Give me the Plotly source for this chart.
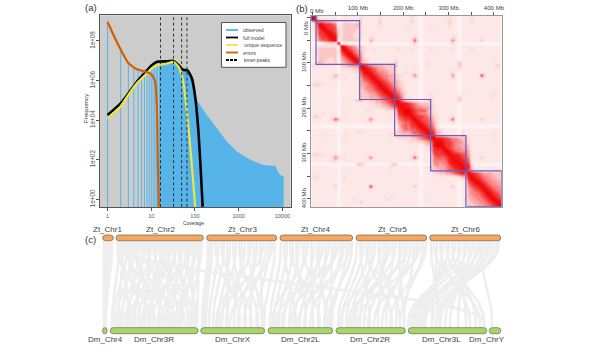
import numpy as np
import plotly.graph_objects as go

W, H = 597, 352
FONT = "Liberation Sans"

# ---------- panel (a): k-mer spectrum ----------
obs_bar_k = [1, 2, 3, 4, 5, 6, 7, 8, 9, 10, 11, 12, 13, 14]
obs_bar_f = [9e8, 3.5e7, 7e6, 4.5e6, 3.7e6, 3.4e6, 3.7e6, 4.2e6, 4.8e6, 5.6e6, 6.3e6, 7e6, 7.8e6, 8.5e6]
obs_fill_k = [15, 21, 32.4, 42, 53, 68, 85, 101, 111, 187, 318, 540, 915, 1850, 3700, 5800, 6900, 7800, 9000, 10700]
obs_fill_f = [9e6, 9.3e6, 9.8e6, 6e6, 3.5e6, 3.2e6, 1.3e6, 1.6e5, 1e5, 1.8e4, 3.8e3, 810, 257, 98, 54, 50, 48, 25, 17, 14]
model_k = [1, 2, 3, 4.7, 7.3, 10, 13.5, 21, 32.4, 42, 53, 68, 85, 101, 121, 137, 150]
model_f = [1.8e4, 7e4, 2.2e5, 8.7e5, 2.5e6, 5.6e6, 8.9e6, 9.3e6, 9.8e6, 6e6, 3.5e6, 3.2e6, 1.3e6, 1.55e5, 2.1e3, 20, 0.42]
unique_k = [1, 2, 3, 4.7, 7.3, 10, 13.5, 21, 32.4, 42, 53, 65, 78, 93, 101]
unique_f = [1.2e4, 5e4, 1.9e5, 7.2e5, 1.9e6, 4e6, 6e6, 6.8e6, 8.7e6, 5e6, 1.07e6, 3.2e4, 460, 4.4, 0.42]
errors_k = [1, 1.37, 2.02, 3.03, 4.7, 7.3, 10, 12.3, 13.5, 14.2, 15]
errors_f = [9.3e8, 2e8, 3.5e7, 7.4e6, 3.7e6, 2.8e6, 2.1e6, 8.7e5, 4.8e4, 45, 0.42]
kmer_peaks = [16.3, 32.4, 49.5, 65.6]
a_xticks = [1, 10, 100, 1000, 10000]
a_yticks = [1, 1e2, 1e4, 1e6, 1e8]
a_yticktext = ["1e+00", "1e+02", "1e+04", "1e+06", "1e+08"]
legend_names = ["observed", "full model", "unique sequence", "errors", "kmer-peaks"]
legend_colors = ["#56B4E9", "#000000", "#F0E442", "#D55E00", "#000000"]

# ---------- panel (b): Hi-C contact map, 7 Mb bins, upper triangle, intensity 0-9 ----------
hic_upper = [
"9411111111 1111121111 1211111111 1211111111 1112111111 2111111111",
".755443311 2211221111 1311111111 1311111111 1113111111 2111111111",
"..98776512 3333421111 1211111111 1111111111 1112111111 1111111111",
"...9877612 3333321111 1211111111 2111111211 1112111111 1111111111",
"....987622 3333221111 1111111111 1111111111 1111111111 1111111111",
".....98722 3332221111 1111111111 1111111111 1111111111 1111111111",
"......9822 3332221122 1111111111 1131111111 1111221111 1111111111",
".......912 3333311142 1111111111 1262111111 1112521111 1113111111",
"........91 1111111121 1011111111 1131111111 1111211111 1111111111",
".........9 8654332111 1111111111 1111111111 1111111111 1111111111",
".......... 9865432112 1111111211 1211111211 1111211111 2111111111",
".......... .986542111 1111111111 1111111111 1111111111 1111111111",
".......... ..98652111 1111111111 1111111111 1111111111 1111111111",
".......... ...9853211 1111112111 1111111111 1111111111 1111111211",
".......... ....953212 1111113111 1111112111 1111113111 1111111111",
".......... .....98654 4433334111 1111112111 1111113111 1111111131",
".......... ......9876 5443332111 1111111111 1111112111 1111111111",
".......... .......987 6554332112 1121111111 1111211111 1111111111",
".......... ........98 7655443221 1252111111 1111511111 1117211111",
".......... .........9 8765443211 1121111111 1111211111 1112111111",
".......... .......... 9876544321 1111111111 1111111111 1111111111",
".......... .......... .987654321 1111111111 1111111111 1111111111",
".......... .......... ..98765431 1111111111 1111111111 1111111111",
".......... .......... ...9876532 1111111111 1111111111 1111111211",
".......... .......... ....987642 1111111211 1111111211 1111111211",
".......... .......... .....98752 2111111211 1111113111 1111112111",
".......... .......... ......9863 2211112311 1111113111 1111111111",
".......... .......... .......988 7654333221 1111111111 1111111111",
".......... .......... ........98 8765544321 1111111111 1111111111",
".......... .......... .........9 9876664321 1111111111 1111111111",
".......... .......... .......... 9876554322 1111111111 1111111111",
".......... .......... .......... .987765432 1111211111 1111111111",
".......... .......... .......... ..98766532 1112611111 1113111111",
".......... .......... .......... ...9876542 1111211111 1111111111",
".......... .......... .......... ....987652 1111111111 1111111111",
".......... .......... .......... .....98763 2111111111 1111111111",
".......... .......... .......... ......9874 3111111211 1111111111",
".......... .......... .......... .......984 3321111311 1111111211",
".......... .......... .......... ........98 8776554332 1111111111",
".......... .......... .......... .........9 9877655432 1111111111",
".......... .......... .......... .......... 9877654443 1111111111",
".......... .......... .......... .......... .987655443 1111111111",
".......... .......... .......... .......... ..98765554 1111111111",
".......... .......... .......... .......... ...9887664 1111111111",
".......... .......... .......... .......... ....988765 1113111111",
".......... .......... .......... .......... .....98876 1111111111",
".......... .......... .......... .......... ......9887 2111111111",
".......... .......... .......... .......... .......988 3111111111",
".......... .......... .......... .......... ........96 4211111211",
".......... .......... .......... .......... .........9 8765444333",
".......... .......... .......... .......... .......... 9876554433",
".......... .......... .......... .......... .......... .987655443",
".......... .......... .......... .......... .......... ..98765544",
".......... .......... .......... .......... .......... ...9876554",
".......... .......... .......... .......... .......... ....987655",
".......... .......... .......... .......... .......... .....98765",
".......... .......... .......... .......... .......... ......9876",
".......... .......... .......... .......... .......... .......987",
".......... .......... .......... .......... .......... ........98",
".......... .......... .......... .......... .......... .........9",
]
hic_pale_bins = [8, 34, 46]
hic_bin_mb = 7
hic_start_mb = -3
hic_blocks_mb = [(-3, 7.4), (7.4, 103.7), (103.7, 180.9), (180.9, 260.3), (260.3, 338), (338, 417)]
b_ticks = [0, 50, 100, 150, 200, 250, 300, 350, 400]
b_ticktext = ["", "", "100 Mb", "", "200 Mb", "", "300 Mb", "", "400 Mb"]

# ---------- panel (c): synteny tracks ----------
zt_names = ["Zt_Chr1", "Zt_Chr2", "Zt_Chr3", "Zt_Chr4", "Zt_Chr5", "Zt_Chr6"]
zt_start = [102.7, 116, 206.7, 280, 356, 429.7]
zt_end = [113.3, 203.3, 276.7, 352.7, 426.7, 500.7]
zt_label = [107.7, 160, 242, 315, 392, 465]
dm_names = ["Dm_Chr4", "Dm_Chr3R", "Dm_ChrX", "Dm_Chr2L", "Dm_Chr2R", "Dm_Chr3L", "Dm_ChrY"]
dm_start = [102.7, 110.3, 200.7, 268, 336, 408.3, 489.3]
dm_end = [107, 198, 264.7, 332.7, 405.3, 486.7, 500.7]
dm_label = [105, 154, 232.7, 300, 370, 441, 486.7]

links_top = [104, 106, 108, 110, 112,
    117, 119, 121, 123, 125, 127, 129, 131, 133, 135, 137, 139, 141, 143, 145, 147, 149, 151, 153, 155, 157, 159,
    161, 163, 165, 167, 169, 171, 173, 175, 177, 179, 181, 183, 185, 187, 189, 191, 193, 195, 197, 199, 201, 202,
    208, 210, 212, 215, 218, 221, 224, 227, 230, 233, 236, 239, 242, 245, 248, 251, 254, 257, 260, 263, 266, 269, 272, 275,
    281, 284, 287, 290, 293, 296, 299, 302, 305, 308, 311, 314, 317, 320, 323, 326, 329, 332, 335, 338, 341, 344, 347, 350, 352,
    357, 360, 363, 366, 369, 372, 375, 378, 381, 384, 387, 390, 393, 396, 399, 402, 405, 408, 411, 414, 417, 420, 423, 426,
    431, 434, 437, 440, 443, 446, 449, 452, 455, 458, 461, 464, 467, 470, 473, 476, 479, 482, 485, 488, 491, 494, 497, 499,
    480, 118]
links_bot = [104, 104.5, 105, 105, 105.5,
    150, 112, 130, 118, 165, 113, 140, 122, 175, 116, 155, 128, 185, 135, 120, 170, 145, 125, 190, 160, 132, 195,
    150, 138, 178, 142, 168, 148, 193, 158, 127, 188, 172, 152, 196, 162, 180, 143, 192, 182, 165, 197, 190, 175,
    202, 204, 206, 240, 209, 252, 213, 228, 218, 246, 222, 258, 234, 226, 262, 216, 250, 238, 263, 220, 244, 256, 230, 264,
    270, 296, 274, 320, 279, 306, 284, 330, 289, 272, 313, 294, 326, 300, 282, 318, 291, 331, 304, 276, 324, 310, 332, 298, 328,
    338, 370, 342, 392, 346, 360, 350, 400, 355, 378, 364, 340, 386, 352, 404, 368, 396, 348, 382, 404, 374, 358, 400, 390,
    440, 480, 432, 470, 424, 484, 418, 476, 412, 466, 408, 458, 412, 450, 420, 445, 416, 440, 422, 436, 414, 432, 425, 410,
    492, 485]
TRACK_TOP, TRACK_BOT = 240.7, 327.7

fig = go.Figure()

# panel (a)
bar_x, bar_y = [], []
for k, f in zip(obs_bar_k, obs_bar_f):
    bar_x += [k, k, None]
    bar_y += [0.4, f, None]
fig.add_trace(go.Scatter(x=bar_x, y=bar_y, mode="lines", line=dict(color="#56B4E9", width=1), name="observed", showlegend=False, hoverinfo="skip", xaxis="x", yaxis="y"))
fig.add_trace(go.Scatter(x=obs_fill_k + [obs_fill_k[-1], obs_fill_k[0]], y=obs_fill_f + [0.4, 0.4], mode="lines", fill="toself", fillcolor="#56B4E9", line=dict(color="#56B4E9", width=0), name="observed", showlegend=False, xaxis="x", yaxis="y"))
fig.add_trace(go.Scatter(x=model_k, y=model_f, mode="lines", line=dict(color="#000000", width=2.6, shape="spline", smoothing=0.5), name="full model", showlegend=False, xaxis="x", yaxis="y"))
fig.add_trace(go.Scatter(x=unique_k, y=unique_f, mode="lines", line=dict(color="#F0E442", width=2.2, shape="spline", smoothing=0.5), name="unique sequence", showlegend=False, xaxis="x", yaxis="y"))
fig.add_trace(go.Scatter(x=errors_k, y=errors_f, mode="lines", line=dict(color="#D55E00", width=2.2, shape="spline", smoothing=0.5), name="errors", showlegend=False, xaxis="x", yaxis="y"))
for p in kmer_peaks:
    fig.add_trace(go.Scatter(x=[p, p], y=[0.4, 2e9], mode="lines", line=dict(color="#222222", width=0.9, dash="3px,2.5px"), name="kmer-peaks", showlegend=False, xaxis="x", yaxis="y"))

# panel (b)
rows = [r.replace(" ", "") for r in hic_upper]
n = len(rows)
z = np.zeros((n, n))
for i, r in enumerate(rows):
    for j, c in enumerate(r):
        if c != ".":
            z[i, j] = z[j, i] = int(c)
for b in hic_pale_bins:
    z[b, :] = np.where(z[b, :] == 1, 0, z[b, :])
    z[:, b] = np.where(z[:, b] == 1, 0, z[:, b])
centers = hic_start_mb + hic_bin_mb * (np.arange(n) + 0.5)
scale = [[0, "#fff4f4"], [1/9, "#fde8e8"], [2/9, "#fddcdc"], [3/9, "#fcc6c6"], [4/9, "#faa8a8"], [5/9, "#f88484"], [6/9, "#f65c5c"], [7/9, "#f43838"], [8/9, "#f21a1a"], [1, "#f00000"]]
fig.add_trace(go.Heatmap(z=z, x=centers, y=centers, colorscale=scale, zmin=0, zmax=9, showscale=False, zsmooth="best", xaxis="x2", yaxis="y2"))

# panel (c)
link_x, link_y = [], []
v = np.linspace(0, 1, 30)
s = 6 * v**5 - 15 * v**4 + 10 * v**3
for t, b in zip(links_top, links_bot):
    link_x += list(t + (b - t) * s) + [None]
    link_y += list(TRACK_TOP + (TRACK_BOT - TRACK_TOP) * v) + [None]
fig.add_trace(go.Scatter(x=link_x, y=link_y, mode="lines", line=dict(color="#eeeeee", width=2.6), hoverinfo="skip", showlegend=False, name="links", xaxis="x3", yaxis="y3"))


def px(x):
    return x / W


def py(y):
    return 1 - y / H


shapes = []
annos = []
# grey plot background of panel (a)
shapes.append(dict(type="rect", xref="x domain", yref="y domain", x0=0, x1=1, y0=0, y1=1, fillcolor="#cccccc", line=dict(width=0), layer="below"))
# legend of panel (a)
shapes.append(dict(type="rect", xref="paper", yref="paper", x0=px(221.5), x1=px(286), y0=py(22.5), y1=py(67.3), fillcolor="#ffffff", line=dict(color="#555555", width=1)))
for i, (nm, col) in enumerate(zip(legend_names, legend_colors)):
    yy = 30 + 7.5 * i
    shapes.append(dict(type="line", xref="paper", yref="paper", x0=px(226), x1=px(238), y0=py(yy), y1=py(yy), line=dict(color=col, width=1.8, dash="3px,1px" if nm == "kmer-peaks" else "solid")))
    annos.append(dict(text=nm, xref="paper", yref="paper", x=px(241.5), y=py(yy), xanchor="left", yanchor="middle", showarrow=False, font=dict(size=5, color="#444444", family=FONT)))
# blocks of panel (b)
for k, (a, b) in enumerate(hic_blocks_mb):
    if k == 0:
        shapes.append(dict(type="rect", xref="x2", yref="y2", x0=a, x1=b, y0=a, y1=b, fillcolor="rgba(190,10,50,0.85)", line=dict(color="#6a5cc0", width=1)))
    else:
        shapes.append(dict(type="rect", xref="x2", yref="y2", x0=a, x1=b, y0=a, y1=b, line=dict(color="#6a5cc0", width=1.2)))


def rounded(x0, x1, y0, y1, fill):
    r = min((x1 - x0) / 2, (y1 - y0) / 2)
    d = (f"M {x0+r},{y0} L {x1-r},{y0} Q {x1},{y0} {x1},{y0+r} L {x1},{y1-r} Q {x1},{y1} {x1-r},{y1} "
         f"L {x0+r},{y1} Q {x0},{y1} {x0},{y1-r} L {x0},{y0+r} Q {x0},{y0} {x0+r},{y0} Z")
    return dict(type="path", xref="x3", yref="y3", path=d, fillcolor=fill, line=dict(color="#77705f", width=0.8))


for a, b in zip(zt_start, zt_end):
    shapes.append(rounded(a, b, 235, 240.7, "#F7A660"))
for a, b in zip(dm_start, dm_end):
    shapes.append(rounded(a, b, 327.7, 333.7, "#A6D869"))
for nm, x in zip(zt_names, zt_label):
    annos.append(dict(text=nm, xref="x3", yref="y3", x=x, y=229, xanchor="center", yanchor="middle", showarrow=False, font=dict(size=8, color="#444444", family=FONT)))
for nm, x in zip(dm_names, dm_label):
    annos.append(dict(text=nm, xref="x3", yref="y3", x=x, y=339.5, xanchor="center", yanchor="middle", showarrow=False, font=dict(size=8, color="#444444", family=FONT)))
# panel letters and axis titles of (a)
for t, x, y in [("(a)", 90.5, 8), ("(b)", 302, 8.5), ("(c)", 90.5, 239)]:
    annos.append(dict(text=t, xref="paper", yref="paper", x=px(x), y=py(y), xanchor="center", yanchor="middle", showarrow=False, font=dict(size=9.5, color="#333333", family=FONT)))
annos.append(dict(text="Frequency", xref="paper", yref="paper", x=px(85), y=py(108), textangle=-90, xanchor="center", yanchor="middle", showarrow=False, font=dict(size=6.2, color="#333333", family=FONT)))
annos.append(dict(text="Coverage", xref="paper", yref="paper", x=px(193.5), y=py(223), xanchor="center", yanchor="middle", showarrow=False, font=dict(size=4.8, color="#333333", family=FONT)))
# the "0 Mb" labels of (b) sit beside their ticks in the reference
annos.append(dict(text="0 Mb", xref="paper", yref="paper", x=px(317), y=py(10.5), xanchor="center", yanchor="middle", showarrow=False, font=dict(size=6.1, color="#444444", family=FONT)))
annos.append(dict(text="0 Mb", xref="paper", yref="paper", x=px(305.5), y=py(28.5), textangle=-90, xanchor="center", yanchor="middle", showarrow=False, font=dict(size=6.1, color="#444444", family=FONT)))

tickfont_a = dict(size=5.5, color="#555555", family=FONT)
tickfont_b = dict(size=6.1, color="#444444", family=FONT)
fig.update_layout(
    width=W, height=H, autosize=False, margin=dict(l=0, r=0, t=0, b=0),
    paper_bgcolor="#ffffff", plot_bgcolor="#ffffff", showlegend=False, shapes=shapes, annotations=annos,
    font=dict(family=FONT),
    xaxis=dict(type="log", automargin=False, domain=[px(100), px(290.7)], anchor="y", range=[-0.172, 4.19], tickvals=a_xticks, ticktext=[str(v) for v in a_xticks],
               tickfont=tickfont_a, ticks="outside", ticklen=3, tickwidth=0.6, tickcolor="#555555", showline=True, mirror=True, linecolor="#555555", linewidth=1.3, showgrid=False, zeroline=False),
    yaxis=dict(type="log", automargin=False, domain=[py(207), py(15.2)], anchor="x", range=[-0.39, 9.3], tickvals=a_yticks, ticktext=a_yticktext, tickangle=-90, ticklabelstandoff=-2,
               tickfont=dict(size=6.3, color="#555555", family=FONT), ticks="outside", ticklen=3, tickwidth=0.6, tickcolor="#555555", showline=True, mirror=True, linecolor="#555555", linewidth=1.3, showgrid=False, zeroline=False),
    xaxis2=dict(automargin=False, domain=[px(311.3), px(501.7)], anchor="y2", side="top", range=[-3, 417], tickvals=b_ticks, ticktext=b_ticktext, tickfont=tickfont_b,
                ticks="outside", ticklen=3, tickwidth=0.6, tickcolor="#555555", showline=True, mirror=True, linecolor="#999999", linewidth=0.8, showgrid=False, zeroline=False),
    yaxis2=dict(automargin=False, domain=[py(206.7), py(16)], anchor="x2", range=[417, -3], tickvals=b_ticks, ticktext=b_ticktext, tickangle=-90, ticklabelstandoff=-1, tickfont=tickfont_b,
                ticks="outside", ticklen=3, tickwidth=0.6, tickcolor="#555555", showline=True, mirror=True, linecolor="#999999", linewidth=0.8, showgrid=False, zeroline=False),
    xaxis3=dict(automargin=False, domain=[0, 1], anchor="y3", range=[0, W], visible=False),
    yaxis3=dict(automargin=False, domain=[0, py(226)], anchor="x3", range=[H, 226], visible=False),
)
fig.write_html("out.html", include_plotlyjs=True, config={"displayModeBar": False},
               post_script="document.body.style.margin='0';")
